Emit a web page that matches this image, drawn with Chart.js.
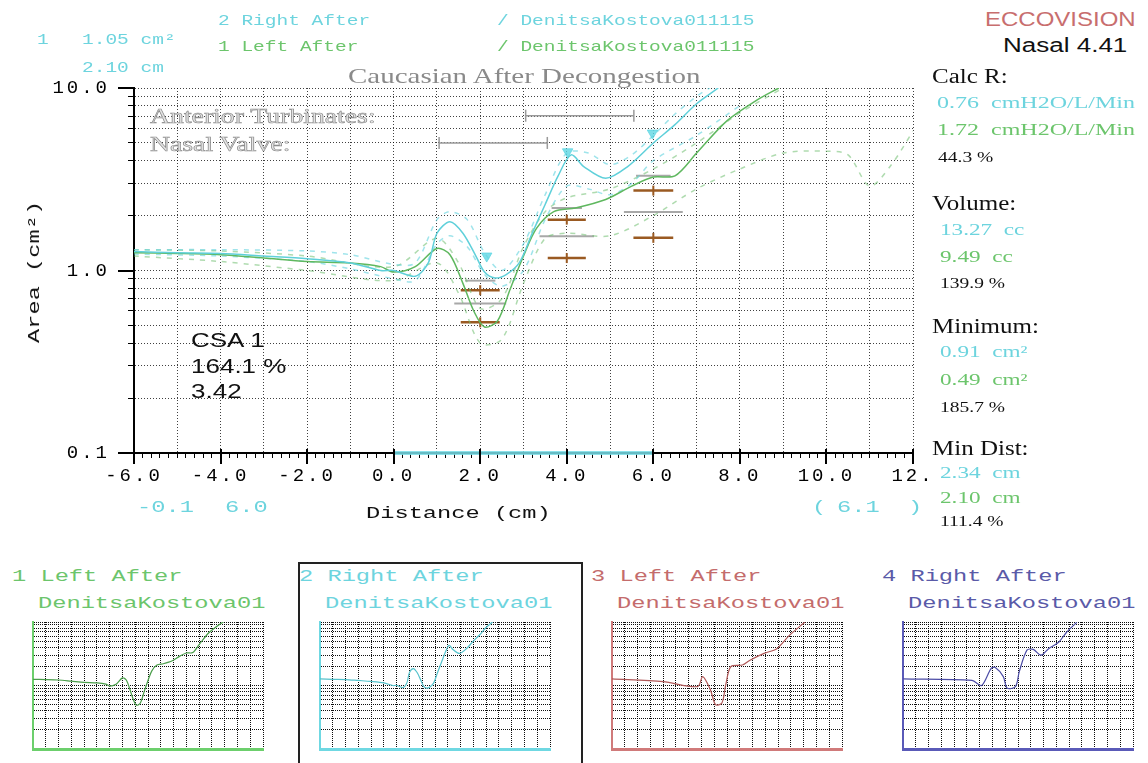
<!DOCTYPE html>
<html>
<head>
<meta charset="utf-8">
<script src="https://cdn.jsdelivr.net/npm/chart.js@4.4.0/dist/chart.umd.min.js"></script>
<style>
  body { margin: 0; width: 1148px; height: 763px; overflow: hidden; position: relative; background: #fff; }
  canvas { position: absolute; }
  .t { position: absolute; white-space: pre; line-height: 1; transform-origin: 0 50%; }
  .mono { font-family: 'Liberation Mono', monospace; font-size: 16px; }
  .serif { font-family: 'Liberation Serif', serif; }
  .sans { font-family: 'Liberation Sans', sans-serif; }
  .box { position: absolute; left: 298px; top: 562px; width: 281px; height: 220px; border: 2px solid #222; }
</style>
</head>
<body>
<canvas id="main" width="940" height="540" style="left:0;top:0"></canvas>
<div class="box"></div>
<canvas id="th1" width="234" height="132"></canvas>
<canvas id="th2" width="234" height="132"></canvas>
<canvas id="th3" width="234" height="132"></canvas>
<canvas id="th4" width="234" height="132"></canvas>
<script>
// ---- values (distance in cm, area in cm²) ----
const rightDist = [-6, -5, -4, -3, -2, -1, -0.3, 0, 0.5, 0.8, 1.0, 1.3, 1.6, 1.9, 2.1, 2.34, 2.6, 2.9, 3.2, 3.5, 3.8, 4.1, 4.4, 4.9, 5.4, 6.0, 6.5, 7.0, 7.5];
const rightArea = [1.27, 1.25, 1.24, 1.2, 1.16, 1.1, 1.0, 1.0, 0.93, 1.1, 1.6, 1.85, 1.6, 1.2, 0.98, 0.91, 0.95, 1.1, 1.6, 2.3, 3.3, 4.3, 3.7, 3.2, 3.7, 5.0, 6.3, 8.2, 10];
const leftDist = [-6, -5, -4, -3, -2, -1, -0.3, 0, 0.5, 1.0, 1.3, 1.6, 1.85, 2.1, 2.4, 2.7, 3.0, 3.3, 3.7, 4.2, 4.9, 5.5, 6.0, 6.5, 7.0, 7.7, 8.4, 8.9];
const leftArea = [1.25, 1.24, 1.22, 1.17, 1.12, 1.1, 1.05, 0.98, 1.05, 1.32, 1.22, 0.85, 0.6, 0.49, 0.53, 0.8, 1.2, 1.7, 2.1, 2.2, 2.45, 2.9, 3.25, 3.3, 4.4, 6.6, 8.6, 10];

const cyanHiDist = [-6, -4, -2, -1, 0, 0.5, 1.0, 1.3, 1.7, 2.1, 2.5, 3.0, 3.5, 4.0, 4.5, 5.0, 5.5, 6.0, 6.5, 7.0, 7.3];
const cyanHiArea = [1.3, 1.3, 1.28, 1.22, 1.08, 1.1, 1.9, 2.1, 1.9, 1.25, 1.0, 1.4, 2.6, 4.4, 4.4, 3.8, 4.3, 5.5, 7.2, 9.0, 10];
const cyanLoDist = [-6, -4, -2, -1, 0, 0.5, 1.0, 1.3, 1.7, 2.1, 2.5, 3.0, 3.5, 4.0, 4.5, 5.0, 5.5, 6.0, 7.0, 8.0];
const cyanLoArea = [1.23, 1.2, 1.12, 1.02, 0.9, 0.88, 1.4, 1.55, 1.35, 0.95, 0.82, 1.0, 1.9, 2.9, 2.8, 2.6, 3.0, 4.0, 5.5, 8.0];
const greenHiDist = [-6, -4, -2, 0, 1.0, 1.5, 2.0, 2.5, 3.0, 3.5, 4.0, 5.0, 6.0, 7.0, 8.0, 9.0];
const greenHiArea = [1.3, 1.28, 1.2, 1.05, 1.5, 1.1, 0.62, 0.7, 1.35, 2.1, 2.5, 2.8, 3.6, 5.0, 7.3, 10];
const greenLoDist = [-6, -4, -2, 0, 1.0, 1.5, 2.0, 2.5, 3.0, 3.5, 4.0, 5.0, 6.0, 7.0, 8.0, 9.0, 10.0, 10.5, 11.0, 11.5, 12];
const greenLoArea = [1.2, 1.12, 1.0, 0.88, 1.1, 0.75, 0.4, 0.42, 0.85, 1.5, 1.6, 1.55, 2.0, 2.8, 3.6, 4.4, 4.5, 4.3, 2.9, 3.8, 5.8];

const minMarkDist = [2.15, 4.02, 5.98];
const minMarkArea = [1.2, 4.47, 5.66];

// norm bars (brown) and reference bars (grey)
const normDist = [2, 2, 4, 4, 6, 6];
const normArea = [0.78, 0.52, 1.9, 1.17, 2.74, 1.51];
const normHalf = [0.45, 0.45, 0.44, 0.44, 0.46, 0.46];
const refDist = [2, 2, 4, 4, 6, 6];
const refArea = [0.88, 0.66, 2.2, 1.54, 3.3, 2.09];
const refHalf = [0.35, 0.6, 0.35, 0.63, 0.4, 0.68];

const zoneStart = [3.05, 1.05];
const zoneEnd = [5.55, 3.55];
const zoneLevel = [7.05, 5.0];

const bandDist = [0, 6];
const bandArea = [0.1, 0.1];

const redDist = [-6, -2, 0.7, 1.1, 1.7, 2.1, 2.6, 2.9, 3.3, 4.2, 4.8, 5.9, 6.9, 7.9, 9.1];
const redArea = [1.27, 1.15, 0.96, 1.38, 0.86, 0.5, 0.53, 1.02, 1.98, 2.1, 2.5, 3.2, 3.8, 6.2, 10];
const blueDist = [-6, -0.6, 0.15, 0.9, 1.2, 1.85, 2.15, 2.8, 3.1, 3.7, 4.2, 4.8, 5.4, 6.2, 6.8, 7.6];
const blueArea = [1.27, 1.2, 1.0, 1.86, 1.93, 1.38, 0.91, 0.96, 1.65, 3.6, 3.7, 3.0, 3.8, 4.85, 6.9, 9.9];

const yTicks = [0.1, 0.2, 0.3, 0.4, 0.5, 0.6, 0.7, 0.8, 0.9, 1, 2, 3, 4, 5, 6, 7, 8, 9, 10];
const yLabelVals = [0.1, 1, 10];
const yLabelText = ['0.1', '1.0', '10.0'];
const xLabelVals = [-6, -4, -2, 0, 2, 4, 6, 8, 10, 12];
const xLabelText = ['-6.0', '-4.0', '-2.0', '0.0', '2.0', '4.0', '6.0', '8.0', '10.0', '12.'];

// tick positions: every 0.2 cm on the main axis, every 1 cm on the thumbnails
const xMinorTicks = [];
for (let i = -30; i <= 60; i++) xMinorTicks.push(i / 5);
const xWholeTicks = [];
for (let i = -6; i <= 12; i++) xWholeTicks.push(i);

const CYAN = '#5fd0da';
const GREEN = '#5fb85f';
const BROWN = '#9a5a22';
const GREY = '#9a9a9a';
const GRID = 'rgba(0,0,0,0.75)';
const THUMB_GRID = 'rgba(0,0,0,0.95)';

const pts = (xs, ys) => xs.map((x, i) => ({ x: x, y: ys[i] }));
const near = (a, b) => Math.abs(a - b) < 1e-6;
const isWhole = v => v !== undefined && near(v, Math.round(v));

function curve(xs, ys, color, width, dash) {
    return {
        data: pts(xs, ys), showLine: true, borderColor: color, backgroundColor: color,
        borderWidth: width, borderDash: dash || [], pointRadius: 0, tension: 0.3
    };
}

const datasets = [
    curve(rightDist, rightArea, CYAN, 1.5),
    curve(leftDist, leftArea, GREEN, 1.5),
    {
        data: pts(minMarkDist, minMarkArea), pointStyle: 'triangle', rotation: 180,
        pointRadius: 6, backgroundColor: 'rgba(95,215,228,0.8)', borderColor: 'rgba(95,215,228,0.8)'
    },
    curve(cyanHiDist, cyanHiArea, 'rgba(95,210,222,0.6)', 1.5, [5, 6]),
    curve(cyanLoDist, cyanLoArea, 'rgba(95,210,222,0.6)', 1.5, [5, 6]),
    curve(greenHiDist, greenHiArea, 'rgba(110,190,110,0.55)', 1.5, [5, 6]),
    curve(greenLoDist, greenLoArea, 'rgba(110,190,110,0.55)', 1.5, [5, 6]),
];

normDist.forEach((d, i) => {
    datasets.push({
        data: [{ x: d - normHalf[i], y: normArea[i] }, { x: d + normHalf[i], y: normArea[i] }],
        showLine: true, borderColor: BROWN, borderWidth: 2.5, pointRadius: 0
    });
});
refDist.forEach((d, i) => {
    datasets.push({
        data: [{ x: d - refHalf[i], y: refArea[i] }, { x: d + refHalf[i], y: refArea[i] }],
        showLine: true, borderColor: '#a8a8a8', borderWidth: 2, pointRadius: 0
    });
});
datasets.push({
    data: pts(normDist, normArea), pointStyle: 'line', rotation: 90,
    pointRadius: 5, borderColor: BROWN, borderWidth: 2
});
zoneStart.forEach((s, i) => {
    datasets.push({
        data: [{ x: s, y: zoneLevel[i] }, { x: zoneEnd[i], y: zoneLevel[i] }],
        showLine: true, pointStyle: 'line', rotation: 90, pointRadius: 6,
        borderColor: GREY, borderWidth: 1.5
    });
});
datasets.push(Object.assign(curve(bandDist, bandArea, 'rgba(120,220,230,0.85)', 4), { clip: false }));

// wide courier look of the original screenshot
const spacing = {
    id: 'spacing',
    beforeDraw(chart) { chart.ctx.letterSpacing = '3px'; },
    afterDraw(chart) { chart.ctx.letterSpacing = '0px'; }
};
// longer tick marks at the labelled values
const majorTicks = {
    id: 'majorTicks',
    afterDraw(chart) {
        const { ctx, scales: { x, y }, chartArea: a } = chart;
        ctx.save();
        ctx.strokeStyle = '#000';
        ctx.lineWidth = 2;
        ctx.beginPath();
        yLabelVals.forEach(v => {
            const py = Math.round(y.getPixelForValue(v));
            ctx.moveTo(a.left - 16, py);
            ctx.lineTo(a.left, py);
        });
        xLabelVals.forEach(v => {
            const px = Math.round(x.getPixelForValue(v));
            ctx.moveTo(px, a.bottom - 4);
            ctx.lineTo(px, a.bottom + 11);
        });
        ctx.stroke();
        ctx.restore();
    }
};

new Chart(document.getElementById('main'), {
    type: 'scatter',
    data: { datasets: datasets },
    plugins: [spacing, majorTicks],
    options: {
        responsive: false,
        animation: false,
        events: [],
        layout: { padding: { top: 88, right: 27, left: 0, bottom: 0 } },
        plugins: { legend: { display: false }, tooltip: { enabled: false } },
        scales: {
            x: {
                type: 'linear', min: -6, max: 12,
                afterBuildTicks: s => { s.ticks = xMinorTicks.map(v => ({ value: v })); },
                afterFit: s => { s.height = 87; },
                grid: {
                    color: c => (c.tick && isWhole(c.tick.value)) ? GRID : 'rgba(0,0,0,0)',
                    lineWidth: 1, tickLength: 5, tickColor: '#000', tickWidth: 1
                },
                border: { display: true, color: '#000', width: 2, dash: [1, 2] },
                ticks: {
                    autoSkip: false, maxRotation: 0, padding: 7, color: '#000',
                    font: { family: 'Liberation Mono', size: 19 },
                    callback: v => {
                        const i = xLabelVals.findIndex(t => near(t, v));
                        return i < 0 ? '' : xLabelText[i];
                    }
                }
            },
            y: {
                type: 'logarithmic', min: 0.1, max: 10,
                afterBuildTicks: s => { s.ticks = yTicks.map(v => ({ value: v })); },
                afterFit: s => { s.width = 134; },
                grid: { color: GRID, lineWidth: 1, tickLength: 6, tickColor: '#000' },
                border: { display: true, color: '#000', width: 2, dash: [1, 2] },
                ticks: {
                    autoSkip: false, padding: 18, color: '#000',
                    font: { family: 'Liberation Mono', size: 19 },
                    callback: v => {
                        const i = yLabelVals.findIndex(t => near(t, v));
                        return i < 0 ? '' : yLabelText[i];
                    }
                }
            }
        }
    }
});

// ---- thumbnails ----
const thumbLeft = [33, 320, 612, 903];
function thumb(id, n, xs, ys, axisColor, lineColor) {
    const el = document.getElementById(id);
    el.style.left = (thumbLeft[n] - 2) + 'px';
    el.style.top = '620px';
    new Chart(el, {
        type: 'scatter',
        data: { datasets: [curve(xs, ys, lineColor, 1.2)] },
        options: {
            responsive: false, animation: false, events: [],
            layout: { padding: { top: 2, right: 2, left: 0, bottom: 0 } },
            plugins: { legend: { display: false }, tooltip: { enabled: false } },
            scales: {
                x: {
                    type: 'linear', min: -6, max: 12,
                    afterBuildTicks: s => { s.ticks = xWholeTicks.map(v => ({ value: v })); },
                    afterFit: s => { s.height = 3; },
                    ticks: { display: false },
                    grid: { color: THUMB_GRID, drawTicks: false },
                    border: { color: axisColor, width: 3, dash: [1, 1] }
                },
                y: {
                    type: 'logarithmic', min: 0.1, max: 10,
                    afterBuildTicks: s => { s.ticks = yTicks.map(v => ({ value: v })); },
                    afterFit: s => { s.width = 2; },
                    ticks: { display: false },
                    grid: { color: THUMB_GRID, drawTicks: false },
                    border: { color: axisColor, width: 2, dash: [1, 1] }
                }
            }
        }
    });
}
thumb('th1', 0, leftDist, leftArea, '#6ccf6c', '#4a9e4a');
thumb('th2', 1, rightDist, rightArea, '#6fd8e2', '#55c2cc');
thumb('th3', 2, redDist, redArea, '#d07a7a', '#b05858');
thumb('th4', 3, blueDist, blueArea, '#5a5ab8', '#4c4ca6');

// ---- text ----
function put(text, x, y, cls, color, size, sx, extra) {
    const d = document.createElement('div');
    d.className = 't ' + cls;
    d.textContent = text;
    d.style.left = x + 'px';
    d.style.top = (y - size / 2) + 'px';
    d.style.fontSize = size + 'px';
    d.style.color = color;
    d.style.transform = 'scaleX(' + sx + ')';
    if (extra) Object.assign(d.style, extra);
    document.body.appendChild(d);
    return d;
}
const C = '#6dd4de', G = '#6cc56c', K = '#111';
const M = 1.48;
const S = 1.3;
const outline = { webkitTextStroke: '0.6px #8c8c8c' };

put('1', 37, 40, 'mono', C, 15, S);
put('1.05 cm²', 82, 40, 'mono', C, 15, S);
put('2.10 cm', 82, 68, 'mono', C, 15, S);
put('2 Right After', 218, 21, 'mono', C, 15, S);
put('1 Left After', 218, 47, 'mono', G, 15, S);
put('/ DenitsaKostova011115', 497, 21, 'mono', C, 15, S);
put('/ DenitsaKostova011115', 497, 47, 'mono', G, 15, S);
put('Caucasian After Decongestion', 348, 76, 'serif', '#8a8a8a', 21, 1.38);
put('Anterior Turbinates:', 150, 116, 'serif', '#e4e4e4', 21, 1.32, outline);
put('Nasal Valve:', 150, 144, 'serif', '#e4e4e4', 21, 1.32, outline);
put('CSA 1', 191, 340, 'sans', K, 20, 1.3);
put('164.1 %', 191, 366, 'sans', K, 20, 1.3);
put('3.42', 191, 391, 'sans', K, 20, 1.3);

put('-0.1', 137, 508, 'mono', C, 16, M);
put('6.0', 225, 508, 'mono', C, 16, M);
put('Distance (cm)', 366, 514, 'mono', K, 16, M);
put('(', 812, 508, 'mono', C, 16, M);
put('6.1', 837, 508, 'mono', C, 16, M);
put(')', 908, 508, 'mono', C, 16, M);
const yt = put('Area (cm²)', 0, 272, 'mono', K, 16, 1);
yt.style.transformOrigin = '50% 50%';
yt.style.left = (35 - yt.offsetWidth / 2) + 'px';
yt.style.transform = 'rotate(-90deg) scaleX(' + M + ')';

// right panel
put('ECCOVISION', 985, 19, 'sans', '#c86e6e', 20, 1.2);
put('Nasal 4.41', 1003, 45, 'sans', K, 20, 1.3);
put('Calc R:', 932, 76, 'serif', K, 20, 1.25);
put('0.76  cmH2O/L/Min', 937, 103, 'serif', C, 16, 1.5);
put('1.72  cmH2O/L/Min', 937, 130, 'serif', G, 16, 1.5);
put('44.3 %', 938, 157, 'serif', K, 15, 1.3);
put('Volume:', 932, 203, 'serif', K, 20, 1.25);
put('13.27  cc', 940, 230, 'serif', C, 16, 1.45);
put('9.49  cc', 940, 257, 'serif', G, 16, 1.45);
put('139.9 %', 940, 283, 'serif', K, 15, 1.3);
put('Minimum:', 932, 326, 'serif', K, 20, 1.25);
put('0.91  cm²', 940, 352, 'serif', C, 16, 1.45);
put('0.49  cm²', 940, 380, 'serif', G, 16, 1.45);
put('185.7 %', 940, 407, 'serif', K, 15, 1.3);
put('Min Dist:', 932, 448, 'serif', K, 20, 1.25);
put('2.34  cm', 940, 473, 'serif', C, 16, 1.45);
put('2.10  cm', 940, 498, 'serif', G, 16, 1.45);
put('111.4 %', 940, 521, 'serif', K, 15, 1.3);

// thumbnail captions
const thumbTitle = ['1 Left After', '2 Right After', '3 Left After', '4 Right After'];
const thumbColor = ['#6cc56c', '#6dd4de', '#c46c6c', '#5a5aa8'];
thumbLeft.forEach((l, i) => {
    put(thumbTitle[i], l - 21, 577, 'mono', thumbColor[i], 16, M);
    put('DenitsaKostova01', l + 5, 604, 'mono', thumbColor[i], 16, M);
});
</script>
</body>
</html>
